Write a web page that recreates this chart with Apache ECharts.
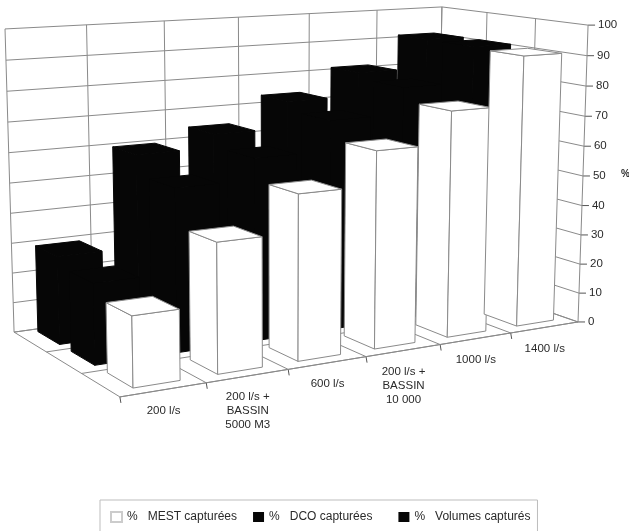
<!DOCTYPE html>
<html>
<head>
<meta charset="utf-8">
<style>html,body{margin:0;padding:0;background:#fff}#chart{width:629px;height:531px}</style>
<script src="https://cdn.jsdelivr.net/npm/echarts@6/dist/echarts.min.js"></script>
</head>
<body>
<div id="chart"></div>
<script>
// Captured shares per network configuration
const categories = ['200 l/s', '200 l/s +\nBASSIN\n5000 M3', '600 l/s', '200 l/s +\nBASSIN\n10 000', '1000 l/s', '1400 l/s'];
const mestValues = [22, 41, 53, 64, 74.5, 90.5];
const dcoValues = [26, 53, 60, 70, 79, 91];
const volumeValues = [29, 59.5, 64, 73, 81, 91];
const percentTicks = [0, 10, 20, 30, 40, 50, 60, 70, 80, 90, 100];
const rowNames = ['%   MEST capturées', '%   DCO capturées   ', '%   Volumes capturés'];

// Corners of the unit box (along categories, into depth, up the value axis) on screen
const boxCorners = [
  [[0, 1, 0], [14, 332]], [[0, 0, 0], [120, 397]], [[1, 0, 0], [578, 322]],
  [[0, 1, 1], [5, 29]], [[1, 1, 1], [442, 7]], [[1, 0, 1], [588, 25]]
];

// Least-squares fit of a projective camera to the box corners
function fitCamera(pairs) {
  const rows = [], rhs = [];
  pairs.forEach(([p, s]) => {
    const [u, v, w] = p, [x, y] = s;
    rows.push([u, v, w, 1, 0, 0, 0, 0, -x * u, -x * v, -x * w]); rhs.push(x);
    rows.push([0, 0, 0, 0, u, v, w, 1, -y * u, -y * v, -y * w]); rhs.push(y);
  });
  const n = 11, A = [], b = [];
  for (let i = 0; i < n; i++) {
    A.push(new Array(n).fill(0)); b.push(0);
    for (let k = 0; k < rows.length; k++) {
      b[i] += rows[k][i] * rhs[k];
      for (let j = 0; j < n; j++) A[i][j] += rows[k][i] * rows[k][j];
    }
  }
  for (let i = 0; i < n; i++) {
    let best = i;
    for (let r = i + 1; r < n; r++) if (Math.abs(A[r][i]) > Math.abs(A[best][i])) best = r;
    [A[i], A[best]] = [A[best], A[i]]; [b[i], b[best]] = [b[best], b[i]];
    for (let r = 0; r < n; r++) {
      if (r === i) continue;
      const f = A[r][i] / A[i][i];
      for (let j = i; j < n; j++) A[r][j] -= f * A[i][j];
      b[r] -= f * b[i];
    }
  }
  return b.map((val, i) => val / A[i][i]);
}
const cam = fitCamera(boxCorners);
function project(u, v, w) {
  const d = 1 + cam[8] * u + cam[9] * v + cam[10] * w;
  return [(cam[0] * u + cam[1] * v + cam[2] * w + cam[3]) / d,
          (cam[4] * u + cam[5] * v + cam[6] * w + cam[7]) / d];
}

// Turn a grid position from the hidden axes into unit box fractions
function toUnit(params, api, cat, value) {
  const rect = params.coordSys, pt = api.coord([cat, value]);
  return [(pt[0] - rect.x) / rect.width, (rect.y + rect.height - pt[1]) / rect.height];
}
const grey = '#8a8a8a';
const seg = (a, b, color, width) => ({
  type: 'line', silent: true,
  shape: { x1: a[0], y1: a[1], x2: b[0], y2: b[1] },
  style: { stroke: color || grey, lineWidth: width || 1, fill: null }
});
const poly = (points, fill, stroke) => ({
  type: 'polygon', shape: { points },
  style: { fill, stroke, lineWidth: 1, lineJoin: 'round' }
});

// Walls: value gridlines, axis ticks and their labels
function renderValueGrid(params, api) {
  const tick = api.value(1), w = toUnit(params, api, 0, tick)[1];
  const end = project(1, 0, w);
  return { type: 'group', children: [
    seg(project(0, 1, w), project(1, 1, w)),
    seg(project(1, 1, w), end),
    seg(end, [end[0] + 7, end[1]], '#555'),
    { type: 'text', style: { x: end[0] + 10, y: end[1], text: String(tick), fill: '#2a2a2a',
      font: '11.5px "Liberation Sans"', align: 'left', verticalAlign: 'middle' } }
  ] };
}

// Vertical wall lines, floor lines, category ticks and labels
function renderCategoryGrid(params, api) {
  const i = api.value(0), half = api.size([1, 0])[0] / params.coordSys.width / 2;
  const mid = toUnit(params, api, i, 0)[0];
  const u0 = mid - half, u1 = mid + half;
  const corner = project(u0, 0, 0), c = project(mid, 0, 0);
  const children = [
    seg(project(u0, 1, 0), project(u0, 1, 1)),
    seg(project(u0, 1, 0), corner),
    seg(corner, project(u1, 0, 0)),
    seg(corner, [corner[0] + 1, corner[1] + 6], '#555'),
    { type: 'text', style: { x: c[0], y: c[1] + 14, text: categories[i], fill: '#2a2a2a',
      font: '11.5px "Liberation Sans"', lineHeight: 14, align: 'center', verticalAlign: 'top' } }
  ];
  if (i === categories.length - 1) {
    children.push(seg(project(u1, 1, 0), project(u1, 1, 1)));
    children.push(seg(project(u1, 1, 0), project(u1, 0, 0)));
  }
  return { type: 'group', children };
}

// Depth lines across the floor and up the right wall
const depthSteps = [0, 1, 2, 3];
function renderDepthGrid(params, api) {
  const v = api.value(0) / 3;
  return { type: 'group', children: [
    seg(project(0, v, 0), project(1, v, 0)),
    seg(project(1, v, 0), project(1, v, 1))
  ] };
}

// One box per value, in the depth row given by the series
function barRenderer(row, fill, stroke) {
  return function (params, api) {
    const i = api.value(0), val = api.value(1);
    const [mid, top] = toUnit(params, api, i, val);
    const band = api.size([1, 0])[0] / params.coordSys.width;
    const u0 = mid - 0.25 * band, u1 = mid + 0.30 * band;
    const v0 = (row + 0.22) / 3, v1 = (row + 0.88) / 3;
    const front = [project(u0, v0, 0), project(u1, v0, 0), project(u1, v0, top), project(u0, v0, top)];
    const side = [project(u0, v1, 0), project(u0, v0, 0), project(u0, v0, top), project(u0, v1, top)];
    const lid = [project(u0, v0, top), project(u1, v0, top), project(u1, v1, top), project(u0, v1, top)];
    return { type: 'group', children: [poly(side, fill, stroke), poly(front, fill, stroke), poly(lid, fill, stroke)] };
  };
}

const points = values => values.map((val, i) => [i, val]);
const chart = echarts.init(document.getElementById('chart'), null, { renderer: 'canvas' });
chart.setOption({
  animation: false,
  backgroundColor: '#ffffff',
  grid: { left: 0, top: 0, width: 600, height: 100 },
  xAxis: { type: 'category', data: categories, show: false },
  yAxis: { type: 'value', min: 0, max: 100, interval: 10, show: false },
  legend: {
    data: rowNames.slice(), left: 100, top: 500, padding: [11, 7, 12, 10], itemGap: 16,
    icon: 'rect', itemWidth: 11, itemHeight: 10, borderColor: '#bdbdbd', borderWidth: 1,
    selectedMode: false, textStyle: { color: '#2a2a2a', fontFamily: 'Liberation Sans', fontSize: 12 }
  },
  graphic: [{ type: 'text', left: 621, top: 169, style: { text: '%', fill: '#2a2a2a', font: 'bold 10px "Liberation Sans"' } }],
  series: [
    { type: 'custom', name: 'value grid', silent: true, clip: false, data: percentTicks.map(t => [0, t]), encode: { x: 0, y: 1 }, renderItem: renderValueGrid, z: 1 },
    { type: 'custom', name: 'category grid', silent: true, clip: false, data: categories.map((c, i) => [i, 0]), encode: { x: 0, y: 1 }, renderItem: renderCategoryGrid, z: 1 },
    { type: 'custom', name: 'depth grid', silent: true, clip: false, data: depthSteps.map(s => [s, 0]), encode: { x: 0, y: 1 }, renderItem: renderDepthGrid, z: 1 },
    { type: 'custom', name: rowNames[2], clip: false, data: points(volumeValues), encode: { x: 0, y: 1 }, renderItem: barRenderer(2, '#060606', '#060606'), itemStyle: { color: '#060606' }, z: 2 },
    { type: 'custom', name: rowNames[1], clip: false, data: points(dcoValues), encode: { x: 0, y: 1 }, renderItem: barRenderer(1, '#060606', '#060606'), itemStyle: { color: '#060606' }, z: 3 },
    { type: 'custom', name: rowNames[0], clip: false, data: points(mestValues), encode: { x: 0, y: 1 }, renderItem: barRenderer(0, '#ffffff', '#8a8a8a'), itemStyle: { color: '#ffffff', borderColor: '#cccccc', borderWidth: 1 }, z: 4 }
  ]
});
</script>
</body>
</html>
